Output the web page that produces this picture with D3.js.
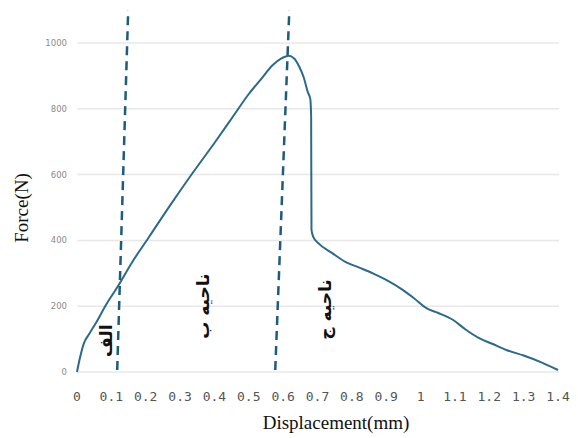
<!DOCTYPE html>
<html>
<head>
<meta charset="utf-8">
<script src="https://cdn.jsdelivr.net/npm/d3@7"></script>
<style>
  body { margin: 0; background: #fff; }
  svg { display: block; }
</style>
</head>
<body>
<svg id="chart" width="578" height="438"></svg>
<script>
//Data
var displacement = [0, 0.008, 0.02, 0.035, 0.055, 0.085, 0.118, 0.16, 0.21, 0.27, 0.336, 0.40, 0.453, 0.50,
  0.534, 0.57, 0.595, 0.616, 0.632, 0.647, 0.66, 0.672, 0.679, 0.6815, 0.6825, 0.688, 0.703, 0.742,
  0.781, 0.82, 0.861, 0.90, 0.949, 0.98, 1.017, 1.05, 1.095, 1.13, 1.172, 1.21, 1.25, 1.30, 1.35, 1.40];
var force = [0, 40, 87, 115, 149, 205, 259, 333, 411, 505, 604, 696, 775, 845,
  888, 933, 953, 961, 953, 928, 895, 850, 830, 776, 432, 410, 391, 362,
  335, 318, 300, 280, 249, 225, 194, 180, 158, 130, 102, 85, 67, 50, 30, 6];

var xTicks = [0, 0.1, 0.2, 0.3, 0.4, 0.5, 0.6, 0.7, 0.8, 0.9, 1, 1.1, 1.2, 1.3, 1.4];
var yTicks = [0, 200, 400, 600, 800, 1000];

//Slanted dashed region boundaries: [x bottom, F bottom, x top, F top]
var boundaries = [[0.117, 6, 0.149, 1100], [0.577, 6, 0.618, 1100]];

//Region labels (Persian)
var regionLabels = ["الف", "ناحیه ب", "ناحیه ج"];
var regionX = [0.085, 0.367, 0.721];
var regionF = [95, 200, 190];

var lineColor = "#2b6a8a";
var dashColor = "#1d5c7c";

var svg = d3.select("svg#chart");

var x = d3.scaleLinear().domain([0, 1.4]).range([77, 558]);
var y = d3.scaleLinear().domain([0, 1000]).range([372, 43]);

//Grid lines
svg.append("g")
  .selectAll("line")
  .data(yTicks)
  .enter().append("line")
    .attr("x1", 77)
    .attr("x2", 559)
    .attr("y1", function (d) { return y(d); })
    .attr("y2", function (d) { return y(d); })
    .attr("stroke", "#e8e8e8")
    .attr("stroke-width", 1.5);

//Y tick labels
svg.append("g")
  .selectAll("text")
  .data(yTicks)
  .enter().append("text")
    .attr("x", 67)
    .attr("y", function (d) { return y(d) + 3; })
    .attr("text-anchor", "end")
    .style("font-family", "DejaVu Sans")
    .style("font-size", "8.5px")
    .style("fill", "#8a8a8a")
    .text(function (d) { return d; });

//X tick labels
svg.append("g")
  .selectAll("text")
  .data(xTicks)
  .enter().append("text")
    .attr("x", function (d) { return x(d); })
    .attr("y", 401)
    .attr("text-anchor", "middle")
    .style("font-family", "DejaVu Sans Mono")
    .style("font-size", "13px")
    .style("fill", "#555")
    .text(function (d) { return d; });

//Axis titles
svg.append("text")
  .attr("x", 336)
  .attr("y", 429)
  .attr("text-anchor", "middle")
  .style("font-family", "Liberation Serif")
  .style("font-size", "19px")
  .style("fill", "#111")
  .text("Displacement(mm)");

svg.append("text")
  .attr("transform", "translate(28,208) rotate(-90)")
  .attr("text-anchor", "middle")
  .style("font-family", "Liberation Serif")
  .style("font-size", "19px")
  .style("fill", "#111")
  .text("Force(N)");

//Force curve
var points = displacement.map(function (d, i) { return [d, force[i]]; });
var line = d3.line()
  .curve(d3.curveMonotoneX)
  .x(function (d) { return x(d[0]); })
  .y(function (d) { return y(d[1]); });

svg.append("path")
  .datum(points)
  .attr("d", line)
  .attr("fill", "none")
  .attr("stroke", lineColor)
  .attr("stroke-width", 2)
  .attr("stroke-linejoin", "round");

//Dashed boundaries
svg.append("g")
  .selectAll("line")
  .data(boundaries)
  .enter().append("line")
    .attr("x1", function (d) { return x(d[0]); })
    .attr("y1", function (d) { return y(d[1]); })
    .attr("x2", function (d) { return x(d[2]); })
    .attr("y2", function (d) { return y(d[3]); })
    .attr("stroke", dashColor)
    .attr("stroke-width", 2.5)
    .attr("stroke-dasharray", "9,6");

//Region labels, rotated
svg.append("g")
  .selectAll("text")
  .data(regionLabels)
  .enter().append("text")
    .attr("transform", function (d, i) {
      return "translate(" + (x(regionX[i]) + 6) + "," + y(regionF[i]) + ") rotate(-90)";
    })
    .attr("text-anchor", "middle")
    .style("font-family", "DejaVu Sans")
    .style("font-size", "17px")
    .style("font-weight", "bold")
    .style("fill", "#111")
    .text(function (d) { return d; });
</script>
</body>
</html>
